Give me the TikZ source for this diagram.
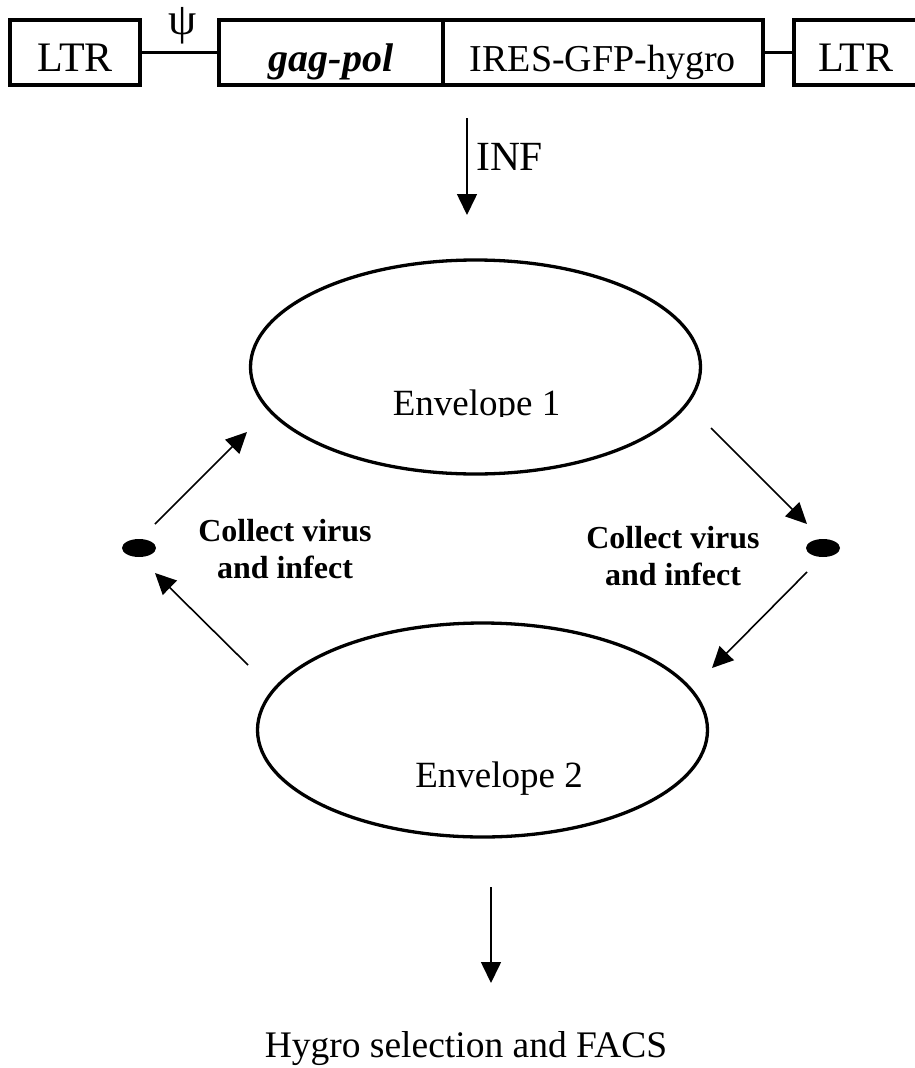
\documentclass[tikz,border=0pt]{standalone}
\usepackage{fontspec}
\setmainfont{Liberation Serif}
\usetikzlibrary{arrows.meta,shapes.geometric}
\tikzset{%
  box/.style={rectangle, draw=black, line width=3.3pt, inner sep=0pt,
    minimum height=65pt, text height=37pt, text depth=0pt},
  link/.style={line width=3.3pt},
  env/.style={ellipse, draw=black, line width=3.3pt, inner sep=0pt,
    minimum width=450pt, minimum height=214pt},
  dot/.style={ellipse, fill=black, inner sep=0pt, minimum width=34pt, minimum height=18pt},
  arr/.style={line width=1.6pt, -{Triangle[length=21pt,width=20pt]}},
  lbl/.style={inner sep=0pt, anchor=base},
  collect/.style={inner sep=0pt, align=center, font=\fontsize{32}{37}\selectfont\bfseries},
}

\begin{document}
\begin{tikzpicture}[x=1pt,y=-1pt]
  \useasboundingbox (0,0) rectangle (914,1068);
  % provirus
  \node[box, minimum width=130pt, font=\fontsize{42}{46}\selectfont] (ltrL) at (75,52.5) {LTR};
  \node[box, minimum width=224pt, font=\fontsize{40}{46}\selectfont\bfseries\itshape] (gag) at (331,52.5) {gag-pol};
  \node[box, minimum width=320pt, font=\fontsize{38}{46}\selectfont] (ires) at (603,52.5) {IRES-GFP-hygro};
  \node[box, minimum width=136pt, font=\fontsize{42}{46}\selectfont, text width=120pt, align=left] (ltrR) at (862,52.5) {\hspace*{16pt}LTR};
  \draw[link] (ltrL.east) -- (gag.west);
  \draw[link] (ires.east) -- (ltrR.west);
  \node[inner sep=0pt, anchor=south, font=\fontsize{45}{48}\selectfont] (psi) at (183,44) {ψ};
  % infection
  \coordinate (infA) at (467,118);
  \coordinate (infB) at (467,215);
  \draw[arr] (infA) -- (infB);
  \node[lbl, anchor=base west, font=\fontsize{41.5}{46}\selectfont] (inf) at (476,170) {INF};
  % envelopes
  \node[env] (env1) at (475.5,367) {};
  \node[env] (env2) at (482.5,730) {};
  \begin{scope}
    \clip (380,370) rectangle (580,416);
    \node[lbl, font=\fontsize{37}{42}\selectfont] (env1txt) at (476.5,415) {Envelope 1};
  \end{scope}
  \node[lbl, font=\fontsize{37}{42}\selectfont] (env2txt) at (499,787) {Envelope 2};
  % passages
  \node[dot] (dotL) at (139,548) {};
  \node[dot] (dotR) at (823,548) {};
  \coordinate (upL) at (155,524);
  \coordinate (tipL) at (247,432);
  \coordinate (loL) at (248,665);
  \coordinate (tipLd) at (155,573);
  \coordinate (upR) at (711,428);
  \coordinate (tipR) at (807,524);
  \coordinate (loR) at (807,572);
  \coordinate (tipRd) at (712,668);
  \draw[arr] (upL) -- (tipL);
  \draw[arr] (loL) -- (tipLd);
  \draw[arr] (upR) -- (tipR);
  \draw[arr] (loR) -- (tipRd);
  \node[collect] (colL) at (285,549) {Collect virus\\and infect};
  \node[collect] (colR) at (673,556) {Collect virus\\and infect};
  % selection
  \coordinate (selA) at (491,887);
  \coordinate (selB) at (491,983);
  \draw[arr] (selA) -- (selB);
  \node[lbl, font=\fontsize{37.5}{42}\selectfont] (sel) at (466,1057) {Hygro selection and FACS};
\end{tikzpicture}
\end{document}
